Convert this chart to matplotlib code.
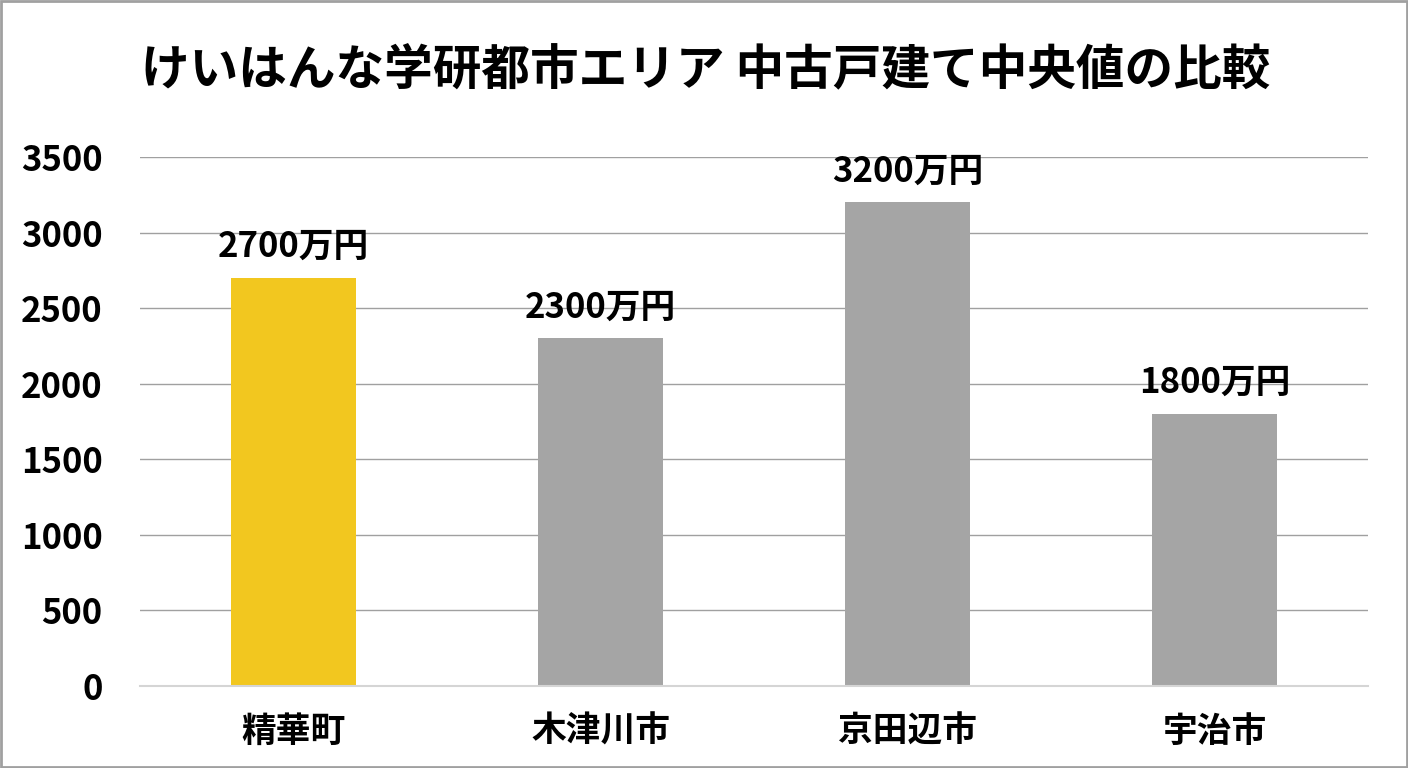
import matplotlib
matplotlib.use("Agg")
import matplotlib.pyplot as plt
from matplotlib.patches import Rectangle

plt.rcParams['font.family'] = ['Noto Sans CJK JP', 'DejaVu Sans']
plt.rcParams['font.weight'] = 'bold'

# データ
areas = ['精華町', '木津川市', '京田辺市', '宇治市']
prices = [2700, 2300, 3200, 1800]
bar_labels = ['2700万円', '2300万円', '3200万円', '1800万円']
yticks = [0, 500, 1000, 1500, 2000, 2500, 3000, 3500]
colors = ['#F2C71F', '#A5A5A5', '#A5A5A5', '#A5A5A5']

fig = plt.figure(figsize=(14.08, 7.68), dpi=100)
ax = fig.add_axes([140 / 1408, 1 - 686 / 768, 1228 / 1408, 529 / 768])

x = range(len(areas))
bars = ax.bar(x, prices, width=0.41, color=colors, zorder=3)

for b, lab in zip(bars, bar_labels):
    ax.annotate(lab, (b.get_x() + b.get_width() / 2, b.get_height()),
                xytext=(0, 10), textcoords='offset points',
                ha='center', va='bottom', fontsize=25, fontweight='bold')

ax.set_xlim(-0.5, len(areas) - 0.5)
ax.set_ylim(0, 3500)
ax.set_yticks(yticks)
ax.set_yticklabels([str(v) for v in yticks])
ax.set_xticks(list(x))
ax.set_xticklabels(areas)
ax.tick_params(axis='y', length=0, pad=27, labelsize=25)
ax.tick_params(axis='x', length=0, pad=20, labelsize=25)

ax.grid(axis='y', color='#A0A0A0', linewidth=1.0, zorder=0)
for s in ['top', 'right', 'left']:
    ax.spines[s].set_visible(False)
ax.spines['bottom'].set_color('#D5D5D5')
ax.spines['bottom'].set_linewidth(1.5)
ax.spines['bottom'].set_zorder(4)

fig.text(706 / 1408, 1 - 71 / 768, 'けいはんな学研都市エリア 中古戸建て中央値の比較',
         ha='center', va='center', fontsize=35, fontweight='bold')

# 外枠
fig.patches.append(Rectangle((0.001, 0.001), 0.998, 0.998, transform=fig.transFigure,
                             fill=False, edgecolor='#A0A0A0', linewidth=2))

fig.savefig('out.png', dpi=100)
